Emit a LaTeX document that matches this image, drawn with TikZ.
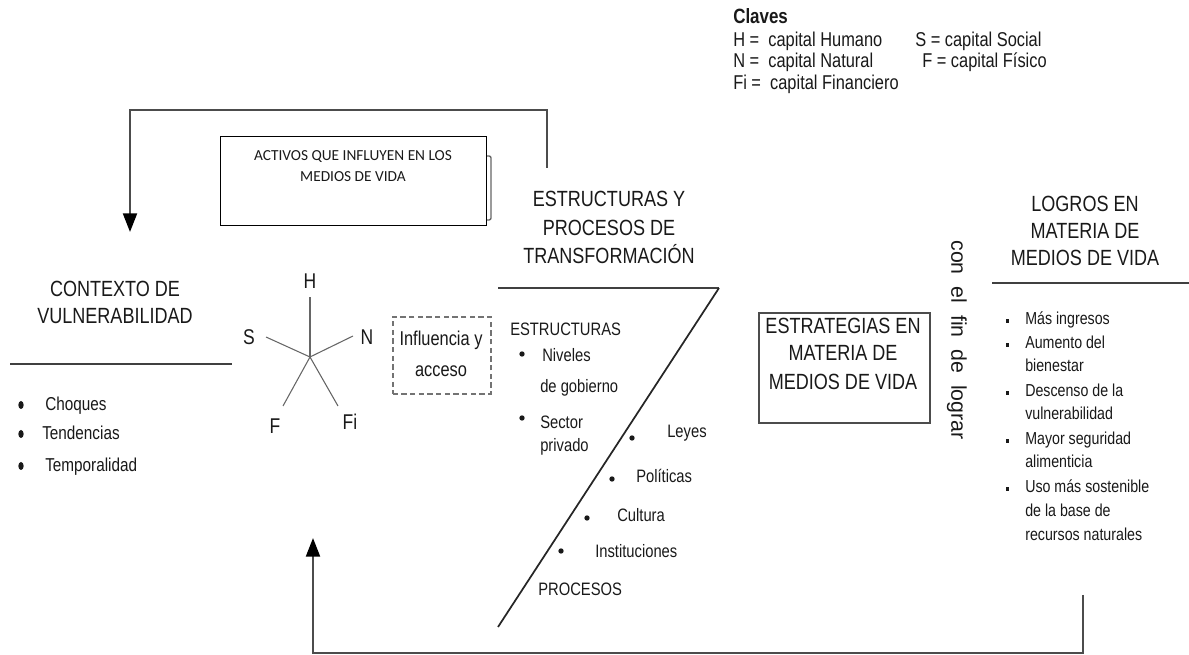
\documentclass[tikz,border=0pt]{standalone}
\usepackage{fontspec}
\setmainfont{Liberation Sans}[FakeStretch=0.82]
\newfontfamily\actfont{Carlito}
\newfontfamily\widefont{Liberation Sans}
\usetikzlibrary{arrows.meta}
\begin{document}
\begin{tikzpicture}[x=0.75pt,y=-0.75pt,
  every node/.style={inner sep=0pt, text=black!90},
  ttl/.style={anchor=mid, font=\fontsize{16.5}{19}\selectfont},
  key/.style={anchor=mid west, font=\fontsize{15}{18}\selectfont},
  itm/.style={anchor=mid west, font=\fontsize{14}{16}\selectfont},
  sub/.style={anchor=mid west, font=\fontsize{13.5}{16}\selectfont},
  rit/.style={anchor=mid west, font=\fontsize{13}{15}\selectfont},
  lbl/.style={anchor=mid, font=\fontsize{16}{19}\selectfont},
  conn/.style={draw=black!70, line width=1.6pt},
  sep/.style={draw=black!75, line width=2pt},
  tip/.style={-{Triangle[width=10.5pt,length=14pt,color=black,fill=black]}},
  dot/.style={fill=black!90},
  ray/.style={draw=black!60, line width=0.8pt}]
\useasboundingbox (0,0) rectangle (1189,655);

% Claves
\node[key, font=\fontsize{15.5}{18}\selectfont\bfseries] (claves) at (733,20) {Claves};
\node[key] (kH) at (733,43) {H =\ \ capital Humano};
\node[key] (kS) at (915,43) {S = capital Social};
\node[key] (kN) at (733,64) {N =\ \ capital Natural};
\node[key] (kF) at (922,64) {F = capital Físico};
\node[key] (kFi) at (733,86) {Fi =\ \ capital Financiero};

% Activos box
\draw[black!60, line width=1pt, rounded corners=1.5pt] (486,156) -- (491,156) -- (491,220) -- (486,220);
\node[draw=black, line width=0.9pt, minimum width=199.5pt, minimum height=66.75pt, anchor=north west] (activos) at (220,136) {};
\node[anchor=mid, font=\actfont\fontsize{11.5}{14}\selectfont] (act1) at (353,157) {ACTIVOS QUE INFLUYEN EN LOS};
\node[anchor=mid, font=\actfont\fontsize{11.5}{14}\selectfont] (act2) at (353,178) {MEDIOS DE VIDA};

% Contexto
\node[ttl] (ctx1) at (115,293) {CONTEXTO DE};
\node[ttl] (ctx2) at (115,320) {VULNERABILIDAD};
\draw[sep] (10,364) -- (232,364);
\fill[dot] (21,405) ellipse (2pt and 3pt);
\fill[dot] (21,434) ellipse (2pt and 3pt);
\fill[dot] (21,466) ellipse (2pt and 3pt);
\node[itm] (choq) at (45,407) {Choques};
\node[itm] (tend) at (42,436) {Tendencias};
\node[itm] (temp) at (45,468) {Temporalidad};

% Star
\coordinate (c0) at (310,357);
\node[lbl] (lH) at (310,285) {H};
\node[lbl] (lS) at (249,341) {S};
\node[lbl] (lN) at (367,341) {N};
\node[lbl] (lF) at (275,430) {F};
\node[lbl] (lFi) at (350,426) {Fi};
\draw[ray] (c0) -- (310,297);
\draw[ray] (c0) -- (266,337);
\draw[ray] (c0) -- (353,336);
\draw[ray] (c0) -- (283,406);
\draw[ray] (c0) -- (338,406);

% Influencia y acceso
\node[draw=black!55, dash pattern=on 4pt off 2.5pt, line width=1.2pt, minimum width=73.5pt, minimum height=57.75pt, anchor=north west] (infl) at (392,316) {};
\node[anchor=mid, font=\fontsize{15}{18}\selectfont] (inf1) at (441,342) {Influencia y};
\node[anchor=mid, font=\fontsize{15}{18}\selectfont] (inf2) at (441,373) {acceso};

% Estructuras y procesos
\node[ttl] (est1) at (609,203) {ESTRUCTURAS Y};
\node[ttl] (est2) at (609,232) {PROCESOS DE};
\node[ttl] (est3) at (609,260) {TRANSFORMACIÓN};
\coordinate (zA) at (498,288);
\coordinate (zB) at (719,288);
\coordinate (zC) at (498,627);
\draw[sep] (zA) -- (zB);
\draw[black!85, line width=1.3pt] (zB) -- (zC);
\node[sub] (estr) at (510,332) {ESTRUCTURAS};
\fill[dot] (522,354) circle (2pt);
\node[sub] (niv1) at (542,358) {Niveles};
\node[sub] (niv2) at (540,389) {de gobierno};
\fill[dot] (522,418) circle (2pt);
\node[sub] (sec1) at (540,425) {Sector};
\node[sub] (sec2) at (540,448) {privado};
\fill[dot] (632,438) circle (2pt);
\node[sub] (ley) at (667,434) {Leyes};
\fill[dot] (612,479) circle (2pt);
\node[sub] (pol) at (636,479) {Políticas};
\fill[dot] (587,518) circle (2pt);
\node[sub] (cul) at (617,518) {Cultura};
\fill[dot] (561,551) circle (2pt);
\node[sub] (ins) at (595,554) {Instituciones};
\node[sub] (proc) at (538,592) {PROCESOS};

% Estrategias
\node[draw=black!70, line width=1.4pt, minimum width=128.25pt, minimum height=82.5pt, anchor=north west] (estrat) at (758,312) {};
\node[ttl] (str1) at (843,330) {ESTRATEGIAS EN};
\node[ttl] (str2) at (843,357) {MATERIA DE};
\node[ttl] (str3) at (843,386) {MEDIOS DE VIDA};

% con el fin de lograr
\node[anchor=center, rotate=-90, font=\widefont\fontsize{16}{19}\selectfont] (fin) at (957,340) {con\ \ el\ \ fin\ \ de\ \ lograr};

% Logros
\node[ttl] (log1) at (1085,208) {LOGROS EN};
\node[ttl] (log2) at (1085,235) {MATERIA DE};
\node[ttl] (log3) at (1085,262) {MEDIOS DE VIDA};
\draw[sep] (992,283) -- (1189,283);
\foreach \yy in {321,345,393,441,489} {\fill[dot] (1005.5,\yy-2) rectangle +(3,4);}
\node[rit] (r1) at (1025,321) {Más ingresos};
\node[rit] (r2) at (1025,345) {Aumento del};
\node[rit] (r3) at (1025,368) {bienestar};
\node[rit] (r4) at (1025,393) {Descenso de la};
\node[rit] (r5) at (1025,416) {vulnerabilidad};
\node[rit] (r6) at (1025,441) {Mayor seguridad};
\node[rit] (r7) at (1025,464) {alimenticia};
\node[rit] (r8) at (1025,489) {Uso más sostenible};
\node[rit] (r9) at (1025,513) {de la base de};
\node[rit] (r10) at (1025,537) {recursos naturales};

% Feedback connectors
\coordinate (topS) at (547,168);
\coordinate (topE) at (130,232);
\draw[conn, tip] (topS) |- (130,110) -- (topE);
\coordinate (botS) at (1083,595);
\coordinate (botE) at (313,538);
\draw[conn, tip] (botS) |- (313,653) -- (botE);
\end{tikzpicture}
\end{document}
